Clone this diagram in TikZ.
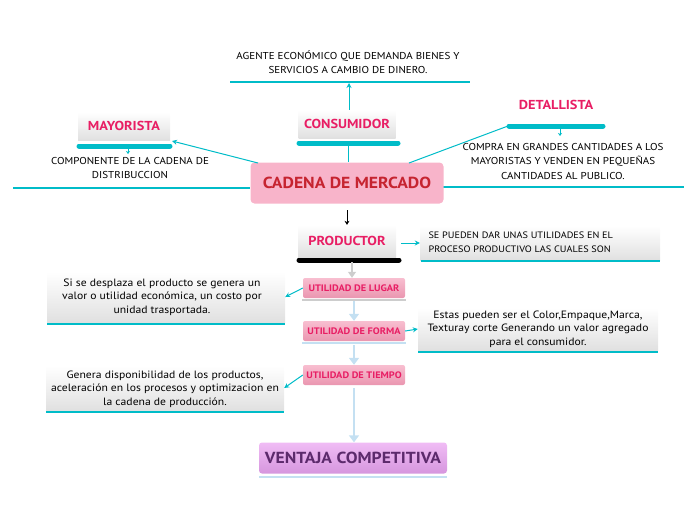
\documentclass[tikz,border=0pt]{standalone}
\usepackage{fontspec}
\setmainfont{PT Sans}[FakeStretch=1.1]
\usetikzlibrary{arrows.meta}
\definecolor{teal1}{RGB}{0,188,200}
\definecolor{pinktxt}{RGB}{232,30,100}
\definecolor{cadfill}{RGB}{248,180,202}
\definecolor{cadtxt}{RGB}{198,36,48}
\definecolor{utitop}{RGB}{248,190,208}
\definecolor{utibot}{RGB}{234,150,176}
\definecolor{ventop}{RGB}{240,188,245}
\definecolor{venbot}{RGB}{214,150,222}
\definecolor{ventxt}{RGB}{92,42,108}
\definecolor{lblue}{RGB}{196,224,242}
\definecolor{lgray}{RGB}{205,205,205}
\tikzset{
  x=1pt,y=-1pt,
  graybox/.style={rectangle,top color=white,bottom color=black!12,draw=none,inner sep=0pt},
  titletxt/.style={text=pinktxt,font=\fontsize{13}{15}\selectfont\bfseries},
  desccaps/.style={align=center,font=\fontsize{10}{14.5}\selectfont,text=black},
  desclow/.style={align=center,font=\fontsize{10.6}{13.5}\selectfont,text=black},
  utibox/.style={rectangle,rounded corners=2pt,top color=utitop,bottom color=utibot,minimum width=102pt,minimum height=20pt,inner sep=0pt,text=pinktxt,font=\fontsize{9.4}{10}\selectfont\bfseries},
  tealbar/.style={teal1,line width=5pt,line cap=round},
  tealline/.style={teal1,line width=2pt},
  tealarrow/.style={teal1,line width=1pt,-{Stealth[length=5pt,width=5pt]}},
  bluearrow/.style={lblue,line width=2.2pt,-{Triangle[length=7pt,width=10pt]}},
}
\begin{document}
\begin{tikzpicture}
\useasboundingbox (0,0) rectangle (696,520);
% top description
\node[desccaps] (topdesc) at (348,62) {AGENTE ECONÓMICO QUE DEMANDA BIENES Y\\SERVICIOS A CAMBIO DE DINERO.};
\draw[tealline] (230,82) -- (470,82);
\coordinate (topl) at (349,83);
% consumidor
\node[graybox,minimum width=97pt,minimum height=28pt] (cons) at (347,124) {};
\node[titletxt] (constxt) at (347,124) {CONSUMIDOR};
\draw[tealbar] (299,143) -- (398,143);
\coordinate (consbar) at (348,145);
\draw[tealarrow] (cons.north -| topl) -- (topl);
% mayorista
\node[graybox,minimum width=92pt,minimum height=28pt] (may) at (124,126) {};
\node[titletxt] (maytxt) at (124,126) {MAYORISTA};
\draw[tealbar] (79,146) -- (170,146);
\coordinate (maybarR) at (172,141);
\coordinate (maybarC) at (128,148);
\coordinate (maydn) at (128,154);
\draw[teal1,line width=0.8pt,-{Stealth[length=3pt,width=4pt]}] (maybarC) -- (maydn);
\node[desccaps] (maydesc) at (130,168) {COMPONENTE DE LA CADENA DE\\DISTRIBUCCION};
\draw[tealline] (13,188) -- (250,188);
% detallista
\node[titletxt] (det) at (556,105) {DETALLISTA};
\draw[tealbar] (509,126) -- (603,126);
\coordinate (detbarL) at (508,126);
\coordinate (detbarC) at (560,128);
\coordinate (detdn) at (560,136);
\draw[teal1,line width=0.8pt,-{Stealth[length=3pt,width=4pt]}] (detbarC) -- (detdn);
\node[desccaps] (detdesc) at (563,161) {COMPRA EN GRANDES CANTIDADES A LOS\\MAYORISTAS Y VENDEN EN PEQUEÑAS\\CANTIDADES AL PUBLICO.};
\draw[tealline] (443,187) -- (684,187);
% cadena
\node[rectangle,rounded corners=4pt,fill=cadfill,minimum width=193pt,minimum height=41pt,inner sep=0pt,text=cadtxt,font=\fontsize{16}{18}\selectfont\bfseries] (cad) at (347,183) {CADENA DE MERCADO};
\coordinate (cadTL) at (258,163);
\coordinate (cadTR) at (409,163);
\draw[teal1,line width=1pt] (consbar) -- (cad.north -| consbar);
\draw[tealarrow] (cadTL) -- (maybarR);
\draw[teal1,line width=1pt] (cadTR) -- (detbarL);
% productor
\coordinate (blkA) at (347,210);
\node[graybox,minimum width=98pt,minimum height=32pt] (prod) at (347,241) {};
\node[titletxt] (prodtxt) at (347,241) {PRODUCTOR};
\draw[black,line width=0.9pt,-{Stealth[length=4pt,width=5pt]}] (blkA) -- (prod.north);
\draw[black,line width=5pt,line cap=round] (299,260) -- (399,260);
\coordinate (prodbar) at (352,262);
\node[graybox,minimum width=240pt,minimum height=34pt] (proddesc) at (540,243) {};
\node[align=left,anchor=west,font=\fontsize{9.3}{14}\selectfont] (proddesctxt) at (425,242) {SE PUEDEN DAR UNAS UTILIDADES EN EL\\PROCESO PRODUCTIVO LAS CUALES SON};
\draw[tealline] (421,261) -- (660,261);
\draw[tealarrow] (401,243) -- (proddesc.west);
% utilidades
\node[utibox] (lugar) at (354,288) {UTILIDAD DE LUGAR};
\node[utibox] (forma) at (354,331) {UTILIDAD DE FORMA};
\node[utibox] (tiempo) at (354,375) {UTILIDAD DE TIEMPO};
\draw[lgray,line width=2pt] (302,300) -- (406,300);
\draw[lblue,line width=2pt] (302,343) -- (406,343);
\draw[lgray,line width=1.2pt,-{Triangle[length=6pt,width=8pt]}] (prodbar) -- (lugar.north -| prodbar);
\draw[bluearrow] (354,301) -- (forma.north);
\draw[bluearrow] (354,345) -- (tiempo.north);
% ventaja
\node[rectangle,rounded corners=3pt,top color=ventop,bottom color=venbot,minimum width=188pt,minimum height=31pt,inner sep=0pt,text=ventxt,font=\fontsize{16}{18}\selectfont\bfseries] (ven) at (353,458) {VENTAJA COMPETITIVA};
\draw[lblue,line width=2pt] (259,477) -- (447,477);
\draw[bluearrow] (354,388) -- (ven.north -| tiempo);
% left descriptions
\node[graybox,minimum width=238pt,minimum height=50pt] (d1) at (166,297) {};
\node[desclow] (d1txt) at (162,297) {Si se desplaza el producto se genera un\\valor o utilidad económica, un costo por\\unidad trasportada.};
\draw[tealline] (47,324) -- (285,324);
\draw[tealarrow] (lugar.west) -- (d1.east);
\node[graybox,minimum width=240pt,minimum height=42pt] (d2) at (538,329) {};
\node[desclow] (d2txt) at (538,329) {Estas pueden ser el Color,Empaque,Marca,\\Texturay corte Generando un valor agregado\\para el consumidor.};
\draw[tealline] (418,352) -- (658,352);
\draw[tealarrow] (forma.east) -- (d2.west);
\node[graybox,minimum width=238pt,minimum height=45pt] (d3) at (165,388) {};
\node[desclow] (d3txt) at (165,389) {Genera disponibilidad de los productos,\\aceleración en los procesos y optimizacion en\\la cadena de producción.};
\draw[tealline] (46,412) -- (284,412);
\draw[tealarrow] (tiempo.west) -- (d3.east);
\end{tikzpicture}
\end{document}
